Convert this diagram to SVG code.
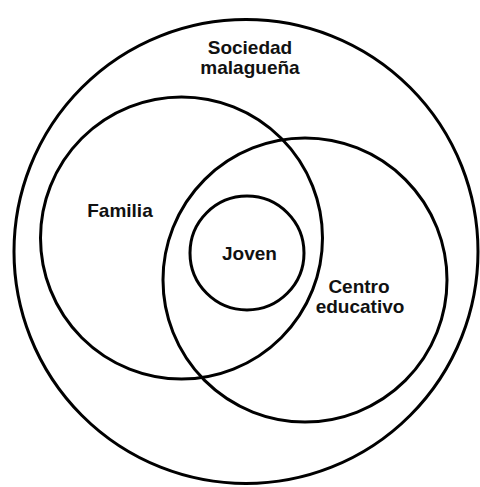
<svg xmlns="http://www.w3.org/2000/svg" width="480" height="487" viewBox="0 0 480 487">
<style>
.c{fill:none;stroke:#000;stroke-width:3}
.t{font-family:"Liberation Sans",Arial,sans-serif;font-weight:bold;font-size:19px;fill:#111;text-anchor:middle}
</style>
<rect width="480" height="487" fill="#fff"/>
<g id="sociedad">
<circle class="c" cx="246" cy="251.5" r="232"/>
<text class="t" x="250" y="54">Sociedad</text>
<text class="t" x="250" y="74">malagueña</text>
</g>
<g id="familia">
<circle class="c" cx="181.5" cy="238" r="141"/>
<text class="t" x="120" y="217">Familia</text>
</g>
<g id="centro">
<circle class="c" cx="305" cy="280" r="142"/>
<text class="t" x="359" y="293">Centro</text>
<text class="t" x="360" y="313">educativo</text>
</g>
<g id="joven">
<circle class="c" cx="247" cy="253" r="57"/>
<text class="t" x="249.5" y="260">Joven</text>
</g>
<g id="connectors"/>
</svg>
